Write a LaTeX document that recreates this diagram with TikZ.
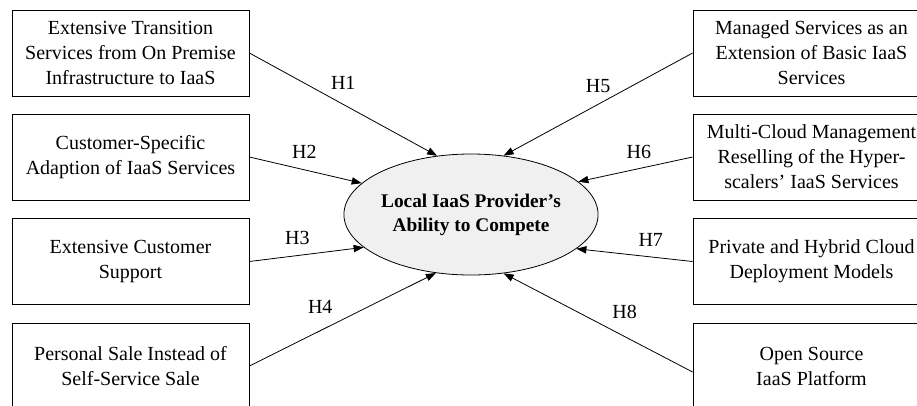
\documentclass[tikz,border=0pt]{standalone}
\usepackage{fontspec}
\setmainfont{Liberation Serif}
\usepackage{tikz}
\usetikzlibrary{shapes.geometric, positioning, arrows.meta}

\begin{document}
\begin{tikzpicture}[x=0.75pt, y=-0.75pt, font=\fontsize{15}{18.75}\selectfont,
    factor/.style={draw, line width=0.6pt, align=center, minimum width=177.75pt, minimum height=64.5pt, inner sep=0pt},
    hyp/.style={-{Triangle[length=7.5pt, width=5.5pt]}, line width=0.6pt}]
    \useasboundingbox (0,0) rectangle (917,405);

    \node[factor] (transition) at (130.5,53) {Extensive Transition\\Services from On Premise\\Infrastructure to IaaS};
    \node[factor] (adaption) at (130.5,157) {Customer-Specific\\Adaption of IaaS Services};
    \node[factor] (support) at (130.5,261.5) {Extensive Customer\\Support};
    \node[factor] (sale) at (130.5,366) {Personal Sale Instead of\\Self-Service Sale};

    \node[factor] (managed) at (811.5,53) {Managed Services as an\\Extension of Basic IaaS\\Services};
    \node[factor] (multicloud) at (811.5,157) {Multi-Cloud Management\\Reselling of the Hyper-\\scalers’ IaaS Services};
    \node[factor] (hybrid) at (811.5,261.5) {Private and Hybrid Cloud\\Deployment Models};
    \node[factor] (opensource) at (811.5,366) {Open Source\\IaaS Platform};

    \node[ellipse, draw, line width=0.6pt, fill=gray!12, minimum width=177pt, minimum height=90.75pt, inner sep=0pt,
        align=center, font=\fontsize{14.5}{18}\selectfont\bfseries] (ability) at (471,214.5) {Local IaaS Provider’s\\Ability to Compete};

    \draw[hyp] (transition.east) -- (ability.120) node[midway, above=7.5pt] {H1};
    \draw[hyp] (adaption.east) -- (ability.164) node[pos=0.49, above=4.5pt] {H2};
    \draw[hyp] (support.east) -- (ability.197) node[pos=0.42, above=4.5pt] {H3};
    \draw[hyp] (sale.east) -- (ability.239) node[pos=0.38, above=9pt] {H4};
    \draw[hyp] (managed.west) -- (ability.61) node[midway, above=5pt] {H5};
    \draw[hyp] (multicloud.west) -- (ability.17) node[pos=0.47, above=4pt] {H6};
    \draw[hyp] (hybrid.west) -- (ability.342) node[pos=0.36, above=4.5pt] {H7};
    \draw[hyp] ([yshift=-4.5pt]opensource.west) -- (ability.299) node[pos=0.36, above=9.5pt] {H8};
\end{tikzpicture}
\end{document}
